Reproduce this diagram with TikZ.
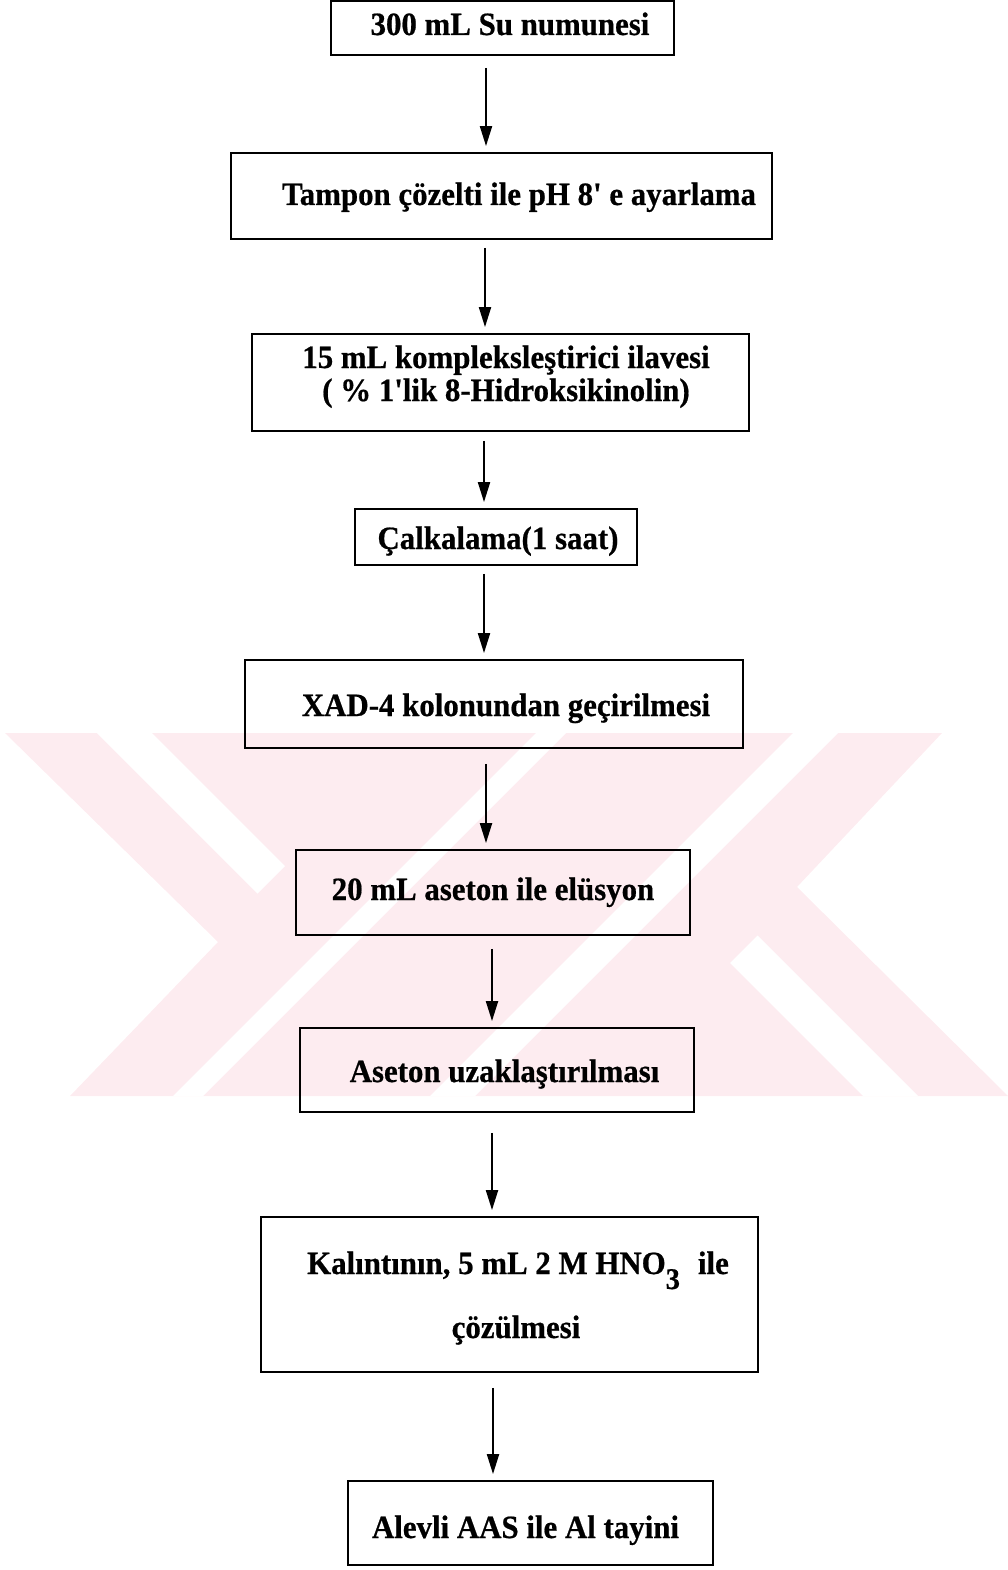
\documentclass[tikz,border=0pt]{standalone}
\usepackage{fontspec}
\newfontfamily\flowfont{Liberation Serif}[FakeStretch=0.95, FakeBold=0.6]
\usetikzlibrary{arrows.meta}

\definecolor{wmpink}{RGB}{253,236,240}

\tikzset{
  stepbox/.style={draw=black, line width=1.8pt, rectangle, inner sep=0pt},
  lbl/.style={font=\flowfont\bfseries\fontsize{32.5}{37}\selectfont, inner sep=0pt, anchor=base},
  flow/.style={draw=black, line width=2pt, -{Triangle[length=20pt,width=12pt]}, shorten >=6pt}
}

\begin{document}
\begin{tikzpicture}[x=1pt,y=-1pt]
\useasboundingbox (0,0) rectangle (1007,1570);

% pale background emblem
\fill[wmpink] (5,733) -- (942,733) -- (797,887) -- (1008,1096) -- (70,1096) -- (218,942) -- cycle;
\fill[white] (97,733) -- (152,733) -- (285,866) -- (257.5,893.5) -- cycle;
\fill[white] (918,1096) -- (863,1096) -- (730,963) -- (757.5,935.5) -- cycle;
\fill[white] (173,1096) -- (203,1096) -- (566,733) -- (536,733) -- cycle;
\fill[white] (793,733) -- (838,733) -- (475,1096) -- (430,1096) -- cycle;

% process boxes
\node[stepbox, minimum width=343pt, minimum height=54pt] (b1) at (502.5,28) {};
\node[stepbox, minimum width=541pt, minimum height=86pt] (b2) at (501.5,196) {};
\node[stepbox, minimum width=497pt, minimum height=97pt] (b3) at (500.5,382.5) {};
\node[stepbox, minimum width=282pt, minimum height=56pt] (b4) at (496,537) {};
\node[stepbox, minimum width=498pt, minimum height=88pt] (b5) at (494,704) {};
\node[stepbox, minimum width=394pt, minimum height=85pt] (b6) at (493,892.5) {};
\node[stepbox, minimum width=394pt, minimum height=84pt] (b7) at (497,1070) {};
\node[stepbox, minimum width=497pt, minimum height=155pt] (b8) at (509.5,1294.5) {};
\node[stepbox, minimum width=365pt, minimum height=84pt] (b9) at (530.5,1523) {};

% box texts
\node[lbl] (t1) at (510,35) {300 mL Su numunesi};
\node[lbl] (t2) at (519,205) {Tampon çözelti ile pH 8\symbol{39} e ayarlama};
\node[lbl] (t3a) at (506,368) {15 mL kompleksleştirici ilavesi};
\node[lbl] (t3b) at (506,401) {( \% 1\symbol{39}lik 8-Hidroksikinolin)};
\node[lbl] (t4) at (498,549) {Çalkalama(1 saat)};
\node[lbl] (t5) at (506,716) {XAD-4 kolonundan geçirilmesi};
\node[lbl] (t6) at (493,900) {20 mL aseton ile elüsyon};
\node[lbl] (t7) at (504.5,1082) {Aseton uzaklaştırılması};
\node[lbl] (t8a) at (518,1274) {Kalıntının, 5 mL 2 M HNO\raisebox{-15pt}{\fontsize{30}{30}\selectfont 3}\hspace{18pt}ile};
\node[lbl] (t8b) at (516,1338) {çözülmesi};
\node[lbl] (t9) at (525.5,1538) {Alevli AAS ile Al tayini};

% connecting arrows
\draw[flow, shorten <=12pt] ([xshift=-16.5pt]b1.south) -- ([xshift=-15.5pt]b2.north);
\draw[flow, shorten <=8pt]  ([xshift=-16.5pt]b2.south) -- ([xshift=-15.5pt]b3.north);
\draw[flow, shorten <=9pt]  ([xshift=-16.5pt]b3.south) -- ([xshift=-12pt]b4.north);
\draw[flow, shorten <=8pt]  ([xshift=-12pt]b4.south)   -- ([xshift=-10pt]b5.north);
\draw[flow, shorten <=15pt] ([xshift=-8pt]b5.south)    -- ([xshift=-7pt]b6.north);
\draw[flow, shorten <=13pt] ([xshift=-1pt]b6.south)    -- ([xshift=-5pt]b7.north);
\draw[flow, shorten <=20pt] ([xshift=-5pt]b7.south)    -- ([xshift=-17.5pt]b8.north);
\draw[flow, shorten <=15pt] ([xshift=-16.5pt]b8.south) -- ([xshift=-37.5pt]b9.north);
\end{tikzpicture}
\end{document}
